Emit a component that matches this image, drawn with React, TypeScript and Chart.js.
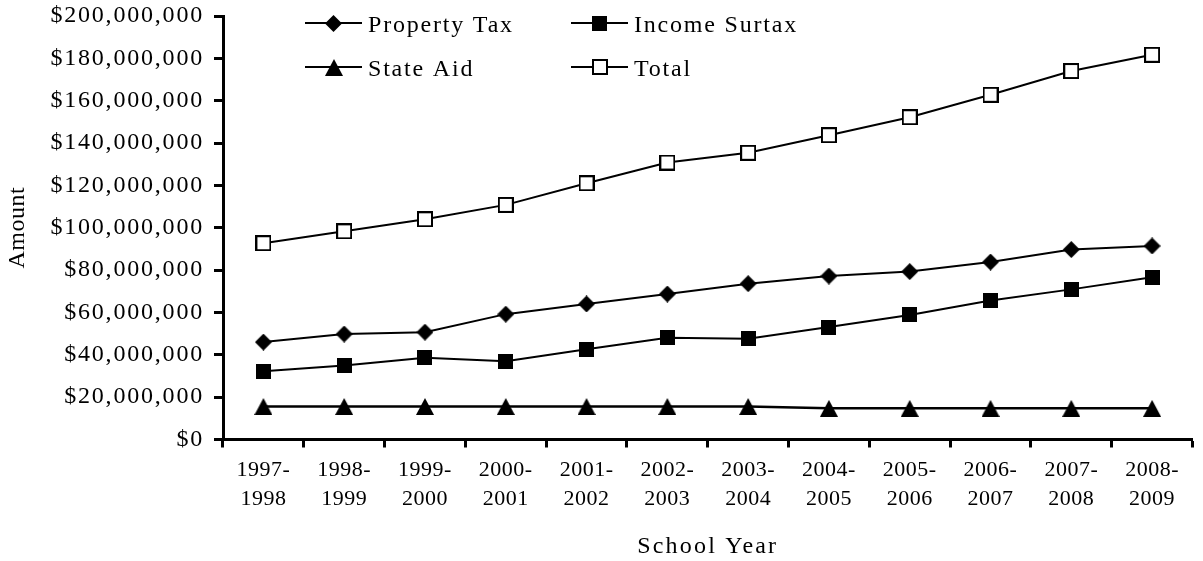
import React, { useEffect, useRef } from 'react';
import { Chart, registerables } from 'chart.js';

Chart.register(...registerables);

// ---------- data ----------
const schoolYears: string[][] = [
  ['1997-', '1998'], ['1998-', '1999'], ['1999-', '2000'], ['2000-', '2001'],
  ['2001-', '2002'], ['2002-', '2003'], ['2003-', '2004'], ['2004-', '2005'],
  ['2005-', '2006'], ['2006-', '2007'], ['2007-', '2008'], ['2008-', '2009'],
];
const propertyTax = [46000000, 49800000, 50700000, 59200000, 64000000, 68700000, 73600000, 77200000, 79300000, 83800000, 89700000, 91400000];
const incomeSurtax = [32200000, 35000000, 38600000, 37000000, 42600000, 48100000, 47600000, 53100000, 58800000, 65600000, 70900000, 76600000];
const stateAid = [15600000, 15600000, 15600000, 15600000, 15600000, 15600000, 15600000, 14700000, 14700000, 14700000, 14700000, 14700000];
const total = [92700000, 98300000, 104000000, 110800000, 121000000, 130800000, 135400000, 143700000, 152200000, 162800000, 174000000, 181700000];
const yMin = 0;
const yMax = 200000000;
const yStep = 20000000;

const FONT = '"Liberation Serif", "Times New Roman", Times, serif';

function makeMarker(kind: string): HTMLCanvasElement {
  const c = document.createElement('canvas');
  const ctx = c.getContext('2d')!;
  if (kind === 'diamond') {
    c.width = 17; c.height = 17;
    ctx.fillStyle = '#000';
    ctx.beginPath();
    ctx.moveTo(8.5, 0); ctx.lineTo(17, 8.5); ctx.lineTo(8.5, 17); ctx.lineTo(0, 8.5);
    ctx.closePath(); ctx.fill();
  } else if (kind === 'square') {
    c.width = 15; c.height = 15;
    ctx.fillStyle = '#000';
    ctx.fillRect(0, 0, 15, 15);
  } else if (kind === 'triangle') {
    c.width = 18; c.height = 17;
    ctx.fillStyle = '#000';
    ctx.beginPath();
    ctx.moveTo(9, 0); ctx.lineTo(18, 17); ctx.lineTo(0, 17);
    ctx.closePath(); ctx.fill();
  } else {
    c.width = 16; c.height = 16;
    ctx.fillStyle = '#fff';
    ctx.fillRect(0, 0, 16, 16);
    ctx.strokeStyle = '#000';
    ctx.lineWidth = 2;
    ctx.strokeRect(1, 1, 14, 14);
  }
  return c;
}

const spacingPlugin = {
  id: 'letterSpacing',
  beforeDraw(chart: any) {
    const ctx = chart.ctx;
    ctx.letterSpacing = '0.5px';
    const patch = (scale: any, method: string, spacing: string) => {
      const key = '_ls_' + method;
      if (!scale || scale[key]) return;
      const orig = scale[method].bind(scale);
      scale[method] = (...args: any[]) => {
        const prev = ctx.letterSpacing;
        ctx.letterSpacing = spacing;
        orig(...args);
        ctx.letterSpacing = prev;
      };
      scale[key] = true;
    };
    patch(chart.scales.y, 'drawLabels', '1.8px');
    patch(chart.scales.y, 'drawTitle', '0.5px');
    patch(chart.scales.x, 'drawTitle', '2.2px');
  },
};

const legendPlugin = {
  id: 'gridLegend',
  afterDraw(chart: any) {
    const ctx = chart.ctx;
    const cols = [305, 571];
    const rows = [23, 67];
    chart.data.datasets.forEach((ds: any, i: number) => {
      const x0 = cols[i % 2];
      const y = rows[Math.floor(i / 2)];
      ctx.save();
      ctx.strokeStyle = '#000';
      ctx.lineWidth = 2;
      ctx.beginPath();
      ctx.moveTo(x0, y);
      ctx.lineTo(x0 + 57, y);
      ctx.stroke();
      const img = ds.pointStyle as HTMLCanvasElement;
      ctx.drawImage(img, Math.round(x0 + 28.5 - img.width / 2), Math.round(y - img.height / 2));
      ctx.letterSpacing = '1.8px';
      ctx.font = `24px ${FONT}`;
      ctx.fillStyle = '#000';
      ctx.textAlign = 'left';
      ctx.textBaseline = 'alphabetic';
      ctx.fillText(ds.label, x0 + 63, y + 8.5);
      ctx.restore();
    });
  },
};

const zeroPadding = () => ({ left: 0, top: 0, right: 0, bottom: 0 });

export default function App() {
  const ref = useRef<HTMLCanvasElement>(null);

  useEffect(() => {
    if (!ref.current) return;
    const mk = (label: string, data: number[], kind: string, width = 2) => ({
      label,
      data,
      borderColor: '#000',
      backgroundColor: '#000',
      borderWidth: width,
      pointStyle: makeMarker(kind),
      pointRadius: 8,
      pointHoverRadius: 8,
      tension: 0,
      fill: false,
    });
    const chart = new Chart(ref.current, {
      type: 'line',
      data: {
        labels: schoolYears,
        datasets: [
          mk('Property Tax', propertyTax, 'diamond'),
          mk('Income Surtax', incomeSurtax, 'square'),
          mk('State Aid', stateAid, 'triangle', 2.5),
          mk('Total', total, 'hollow'),
        ],
      },
      options: {
        animation: false,
        responsive: false,
        maintainAspectRatio: false,
        events: [],
        layout: { padding: { top: 16, right: -2.5, left: 0, bottom: 0 } },
        plugins: {
          legend: { display: false },
          tooltip: { enabled: false },
          title: { display: false },
        },
        scales: {
          x: {
            type: 'category',
            offset: true,
            grid: {
              display: true,
              offset: true,
              drawOnChartArea: false,
              drawTicks: true,
              tickLength: 8,
              tickWidth: 3,
              tickColor: '#000',
              color: '#000',
            },
            border: { display: true, color: '#000', width: 3 },
            ticks: {
              color: '#000',
              font: { family: FONT, size: 22, lineHeight: 1.28 },
              padding: 9,
              maxRotation: 0,
              minRotation: 0,
              autoSkip: false,
            },
            title: {
              display: true,
              text: 'School Year',
              color: '#000',
              font: { family: FONT, size: 24, lineHeight: 1.2 },
              padding: 0,
            },
            afterFit: (s: any) => {
              s.height = 121.5;
              s.paddingLeft = 0;
              s.paddingRight = 0;
              s.getPadding = zeroPadding;
            },
          },
          y: {
            min: yMin,
            max: yMax,
            grid: {
              display: true,
              drawOnChartArea: false,
              drawTicks: true,
              tickLength: 9,
              tickWidth: 3,
              tickColor: '#000',
              color: '#000',
            },
            border: { display: true, color: '#000', width: 3 },
            ticks: {
              stepSize: yStep,
              color: '#000',
              font: { family: FONT, size: 24, lineHeight: 0.5 },
              padding: 10,
              callback: (v: any) => '$' + Number(v).toLocaleString('en-US'),
            },
            title: {
              display: true,
              text: 'Amount',
              color: '#000',
              font: { family: FONT, size: 24, lineHeight: 1.2 },
              padding: { top: 3, bottom: 0 },
            },
            afterFit: (s: any) => {
              s.width = 223;
              s.paddingTop = 0;
              s.paddingBottom = 0;
              s.getPadding = zeroPadding;
            },
          },
        },
      },
      plugins: [spacingPlugin, legendPlugin],
    });
    return () => chart.destroy();
  }, []);

  return (
    <div style={{ position: 'absolute', left: 0, top: 0, width: 1203, height: 561, background: '#fff' }}>
      <canvas ref={ref} width={1203} height={561} style={{ display: 'block', width: 1203, height: 561 }} />
    </div>
  );
}
